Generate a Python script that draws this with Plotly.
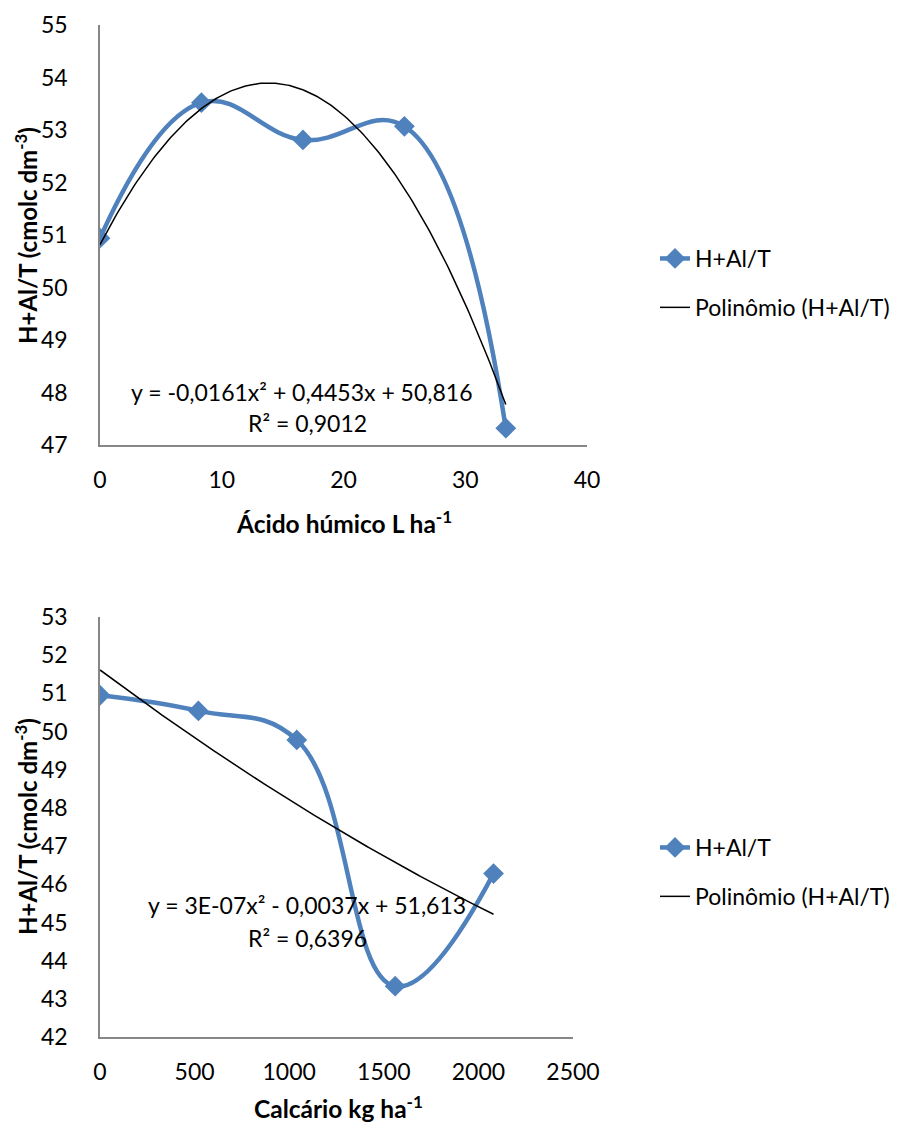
import numpy as np
import plotly.graph_objects as go

# Humic acid doses (L ha-1) and H+Al/T saturation
acido_x = [0, 8.33, 16.67, 25, 33.33]
acido_y = [50.94, 53.52, 52.81, 53.07, 47.32]
acido_coef = [-0.0161, 0.4453, 50.816]   # a, b, c of y = a x^2 + b x + c
acido_eq = "y = -0,0161x² + 0,4453x + 50,816"
acido_r2 = "R² = 0,9012"

# Lime doses (kg ha-1) and H+Al/T saturation
calc_x = [0, 520, 1040, 1560, 2080]
calc_y = [50.95, 50.54, 49.78, 43.33, 46.28]
calc_coef = [3e-07, -0.0037, 51.613]
calc_eq = "y = 3E-07x² - 0,0037x + 51,613"
calc_r2 = "R² = 0,6396"

serie_nome = "H+Al/T"
trend_nome = "Polinômio (H+Al/T)"
y_titulo = "<b>H+Al/T (cmolc dm<sup>-3</sup>)</b>"
x_titulo_1 = "<b>Ácido húmico L ha<sup>-1</sup></b>"
x_titulo_2 = "<b>Calcário kg ha<sup>-1</sup></b>"

FONT = "Lato, Carlito, Calibri, sans-serif"
FS = 23
BLUE = "#4F81BD"
AXIS = "#868686"
W, H = 910, 1124


def px_x(p):
    return p / W


def px_y(p):
    return 1 - p / H


def poly(coef, xs):
    a, b, c = coef
    xs = np.asarray(xs, dtype=float)
    return a * xs ** 2 + b * xs + c


fig = go.Figure()

panels = [
    dict(xs=acido_x, ys=acido_y, coef=acido_coef, xa="x", ya="y", leg="legend", grp=("a1", "a2")),
    dict(xs=calc_x, ys=calc_y, coef=calc_coef, xa="x2", ya="y2", leg="legend2", grp=("b1", "b2")),
]

for p in panels:
    fig.add_trace(go.Scatter(
        x=p["xs"], y=p["ys"], mode="lines+markers", name=serie_nome,
        line=dict(color=BLUE, width=4.5, shape="spline", smoothing=1.2),
        marker=dict(symbol="diamond", size=16, color=BLUE),
        xaxis=p["xa"], yaxis=p["ya"], legend=p["leg"], legendgroup=p["grp"][0],
    ))
    tx = np.linspace(p["xs"][0], p["xs"][-1], 200)
    fig.add_trace(go.Scatter(
        x=tx, y=poly(p["coef"], tx), mode="lines", name=trend_nome,
        line=dict(color="black", width=1.5),
        xaxis=p["xa"], yaxis=p["ya"], legend=p["leg"], legendgroup=p["grp"][1],
    ))

axis_common = dict(
    showgrid=False, zeroline=False, showline=True, linecolor=AXIS, linewidth=1.5,
    ticks="", automargin=False, tickfont=dict(family=FONT, size=FS, color="black"),
)

fig.update_layout(
    width=W, height=H, margin=dict(l=0, r=0, t=0, b=0, autoexpand=False),
    paper_bgcolor="white", plot_bgcolor="white",
    font=dict(family=FONT, size=FS, color="black"),
    xaxis=dict(domain=[px_x(100), px_x(587)], range=[0, 40], dtick=10, anchor="y",
               ticklabelstandoff=14, **axis_common),
    yaxis=dict(domain=[px_y(445), px_y(25)], range=[47, 55], dtick=1, anchor="x",
               ticklabelstandoff=26, **axis_common),
    xaxis2=dict(domain=[px_x(100), px_x(573)], range=[0, 2500], dtick=500, anchor="y2",
                ticklabelstandoff=14, **axis_common),
    yaxis2=dict(domain=[px_y(1037), px_y(617)], range=[42, 53], dtick=1, anchor="x2",
                ticklabelstandoff=26, **axis_common),
    legend=dict(x=px_x(655), y=px_y(237), xanchor="left", yanchor="top",
                traceorder="grouped", tracegroupgap=16,
                font=dict(family=FONT, size=FS), bgcolor="rgba(0,0,0,0)"),
    legend2=dict(x=px_x(655), y=px_y(826), xanchor="left", yanchor="top",
                 traceorder="grouped", tracegroupgap=16,
                 font=dict(family=FONT, size=FS), bgcolor="rgba(0,0,0,0)"),
)

ann = []
# axis titles
ann.append(dict(text=y_titulo, x=px_x(26), y=px_y(236), textangle=-90, size=24))
ann.append(dict(text=x_titulo_1, x=px_x(344), y=px_y(522), size=24.5))
ann.append(dict(text=y_titulo, x=px_x(26), y=px_y(827), textangle=-90, size=24))
ann.append(dict(text=x_titulo_2, x=px_x(338), y=px_y(1107), size=24.5))
# trendline equations
ann.append(dict(text=acido_eq, x=px_x(302), y=px_y(392)))
ann.append(dict(text=acido_r2, x=px_x(307), y=px_y(423)))
ann.append(dict(text=calc_eq, x=px_x(307), y=px_y(905)))
ann.append(dict(text=calc_r2, x=px_x(307), y=px_y(938)))

for a in ann:
    size = a.pop("size", FS)
    a.update(xref="paper", yref="paper", showarrow=False, xanchor="center", yanchor="middle",
             font=dict(family=FONT, size=size, color="black"))
fig.update_layout(annotations=ann)

fig.write_html("out.html")
